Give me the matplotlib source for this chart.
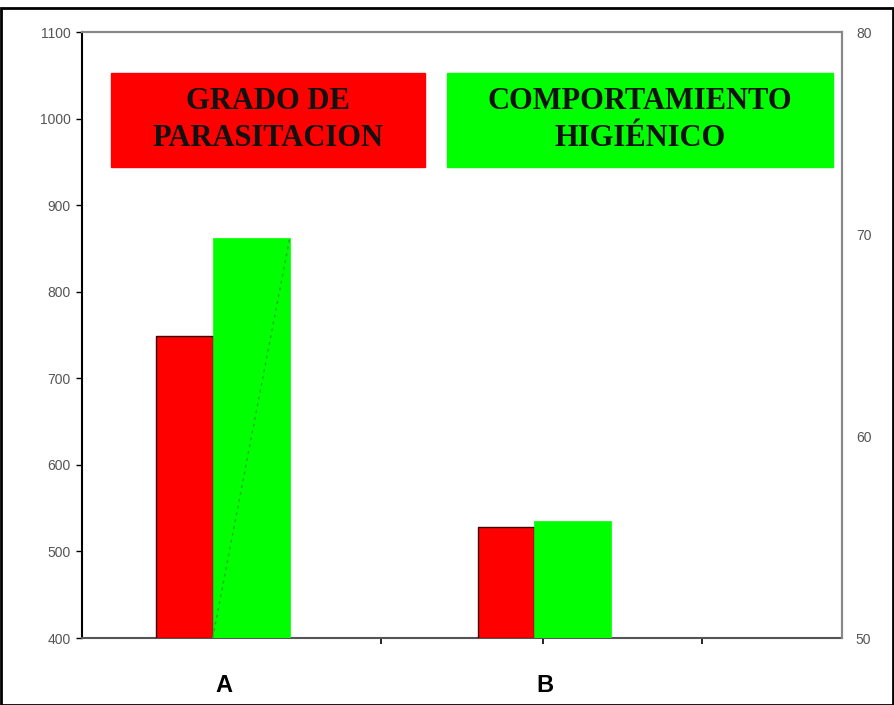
import matplotlib
matplotlib.use("Agg")
import matplotlib.pyplot as plt
from matplotlib.patches import Rectangle

categories = ["A", "B"]
parasitacion = [749, 528]          # left axis
higienico = [69.8, 55.8]           # right axis
left_ticks = [400, 500, 600, 700, 800, 900, 1000, 1100]
right_ticks = [50, 60, 70, 80]
label_red = "GRADO DE\nPARASITACION"
label_green = "COMPORTAMIENTO\nHIGIÉNICO"

fig = plt.figure(figsize=(8.94, 7.05), dpi=100)
ax = fig.add_axes([82/894, 1-638/705, 760/894, 606/705])
ax2 = ax.twinx()

x = list(range(len(categories)))
red_w, green_w = 0.175, 0.24
split = -0.035
ax.bar([xi + split - red_w/2 for xi in x], [v - 400 for v in parasitacion], bottom=400,
       width=red_w, color="#FF0000", edgecolor="#3a0000", linewidth=1.0, zorder=3)
ax2.bar([xi + split + green_w/2 for xi in x], [v - 50 for v in higienico], bottom=50,
        width=green_w, color="#00FF00", edgecolor="#00FF00", linewidth=0.5, zorder=3)
# faint dotted diagonal inside first green bar
x0 = x[0] + split
ax2.plot([x0, x0 + green_w], [50, higienico[0]], color="#22aa22", lw=1.0,
         ls=(0, (2, 3)), zorder=4)

ax.set_xlim(-0.442, 1.925)
ax.set_ylim(400, 1100)
ax2.set_ylim(50, 80)
ax.set_yticks(left_ticks)
ax2.set_yticks(right_ticks)

tick_font = dict(family="Liberation Sans", size=10, color="#555555")
ax.set_yticklabels([str(t) for t in left_ticks], **tick_font)
ax2.set_yticklabels([str(t) for t in right_ticks], **tick_font)
ax.tick_params(axis="y", length=4, width=1, color="black", pad=4, direction="out")
ax2.tick_params(axis="y", length=0, pad=10)

ax.set_xticks(x)
ax.set_xticklabels(categories, family="Liberation Sans", fontweight="bold", size=17)
ax.tick_params(axis="x", length=0, pad=26)
ax.set_xticks([0.49, 0.995, 1.49], minor=True)
ax.tick_params(axis="x", which="minor", length=4, width=1.2, color="black", direction="out")

ax.spines["left"].set_color("black"); ax.spines["left"].set_linewidth(1.5)
ax.spines["bottom"].set_color("#555555"); ax.spines["bottom"].set_linewidth(1.5)
for a in (ax, ax2):
    a.spines["top"].set_color("#888888"); a.spines["top"].set_linewidth(1.5)
    a.spines["right"].set_color("#888888"); a.spines["right"].set_linewidth(1.5)
ax2.spines["left"].set_visible(False)
ax2.spines["bottom"].set_visible(False)

# title boxes
box_y0, box_h = 0.777, 0.155
ax2.add_patch(Rectangle((0.038, box_y0), 0.413, box_h, transform=ax2.transAxes,
                        color="#FF0000", zorder=5))
ax2.add_patch(Rectangle((0.480, box_y0), 0.508, box_h, transform=ax2.transAxes,
                        color="#00FF00", zorder=5))
txt = dict(family="Liberation Serif", fontweight="bold", size=22, color="#111111",
           ha="center", va="center", linespacing=1.35, zorder=6, transform=ax2.transAxes)
ax2.text(0.038 + 0.413/2, box_y0 + box_h/2, label_red, **txt)
ax2.text(0.480 + 0.508/2, box_y0 + box_h/2, label_green, **txt)

# outer border
fig.add_artist(Rectangle((1/894, 0), 892/894, 1 - 8/705, transform=fig.transFigure,
                         fill=False, edgecolor="black", linewidth=2))

fig.savefig("out.png", dpi=100)
